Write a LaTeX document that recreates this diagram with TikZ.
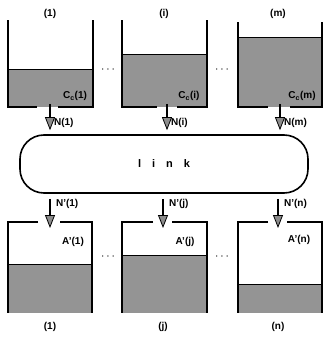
\documentclass[tikz,border=0pt]{standalone}
\usepackage{fontspec}
\setmainfont{Liberation Sans}
\usetikzlibrary{arrows.meta}
\begin{document}
\begin{tikzpicture}[x=1pt,y=-1pt,
  wall/.style={line width=2.6pt},
  water/.style={fill=black!42},
  flow/.style={line width=2.2pt,-{Triangle[length=13pt,width=10pt,fill=black!45,line width=0.8pt]}},
  lbl/.style={font=\bfseries\fontsize{10}{11}\selectfont,inner sep=1pt},
  dots/.style={font=\bfseries\large}]
\useasboundingbox (0,0) rectangle (324,339);
% sending tanks
\fill[water] (8,69) rectangle (93,107);
\fill[water] (122,54) rectangle (207,107);
\fill[water] (238,37) rectangle (322,107);
\draw[wall] (37,107) -- (8,107) -- (8,20);
\draw[wall] (58,107) -- (93,107) -- (93,20);
\draw[wall] (157,107) -- (122,107) -- (122,20);
\draw[wall] (177,107) -- (207,107) -- (207,20);
\draw[wall] (268,107) -- (238,107) -- (238,22);
\draw[wall] (290,107) -- (322,107) -- (322,22);
\draw[thick] (8,69) -- (93,69) (122,54) -- (207,54) (238,37) -- (322,37);
\node[lbl] (s1) at (50,14) {(1)};
\node[lbl] (si) at (164,14) {(i)};
\node[lbl] (sm) at (278,14) {(m)};
\node[lbl] (c1) at (75,96) {C\textsubscript{c}(1)};
\node[lbl] (ci) at (189,96) {C\textsubscript{c}(i)};
\node[lbl] (cm) at (302,96) {C\textsubscript{c}(m)};
\node[dots] (d1) at (108,70) {$\cdots$};
\node[dots] (d2) at (222,70) {$\cdots$};
\coordinate (g1) at (50,104);
\coordinate (gi) at (167,104);
\coordinate (gm) at (280,104);
% link
\node[draw,line width=1.6pt,rounded corners=24pt,minimum width=288pt,minimum height=58pt,
  font=\bfseries\fontsize{11}{12}\selectfont] (link) at (164,164) {l\hspace{1em}i\hspace{1em}n\hspace{1em}k};
\draw[flow,shorten >=4pt] (g1) -- (g1 |- link.north) node[lbl,pos=0.62,right=2pt] (n1) {N(1)};
\draw[flow,shorten >=4pt] (gi) -- (gi |- link.north) node[lbl,pos=0.62,right=2pt] (ni) {N(i)};
\draw[flow,shorten >=4pt] (gm) -- (gm |- link.north) node[lbl,pos=0.62,right=2pt] (nm) {N(m)};
% receiving tanks
\fill[water] (8,264) rectangle (92,313);
\fill[water] (122,255) rectangle (207,313);
\fill[water] (238,284) rectangle (322,313);
\draw[wall] (38,222) -- (8,222) -- (8,313);
\draw[wall] (60,222) -- (92,222) -- (92,313);
\draw[wall] (153,222) -- (122,222) -- (122,313);
\draw[wall] (172,222) -- (207,222) -- (207,313);
\draw[wall] (268,222) -- (238,222) -- (238,313);
\draw[wall] (287,222) -- (322,222) -- (322,313);
\draw[thick] (8,264) -- (92,264) (122,255) -- (207,255) (238,284) -- (322,284);
\coordinate (h1) at (50,228);
\coordinate (hj) at (163,228);
\coordinate (hn) at (278,228);
\draw[flow,shorten <=5pt] (link.south -| h1) -- (h1) node[lbl,pos=0.3,right=4pt] (m1) {N'(1)};
\draw[flow,shorten <=5pt] (link.south -| hj) -- (hj) node[lbl,pos=0.3,right=4pt] (mj) {N'(j)};
\draw[flow,shorten <=5pt] (link.south -| hn) -- (hn) node[lbl,pos=0.3,right=4pt] (mn) {N'(n)};
\node[lbl] (a1) at (73,242) {A'(1)};
\node[lbl] (aj) at (185,242) {A'(j)};
\node[lbl] (an) at (299,240) {A'(n)};
\node[dots] (d3) at (108,257) {$\cdots$};
\node[dots] (d4) at (222,257) {$\cdots$};
\node[lbl] (r1) at (50,327) {(1)};
\node[lbl] (rj) at (163,327) {(j)};
\node[lbl] (rn) at (278,327) {(n)};
\end{tikzpicture}
\end{document}
